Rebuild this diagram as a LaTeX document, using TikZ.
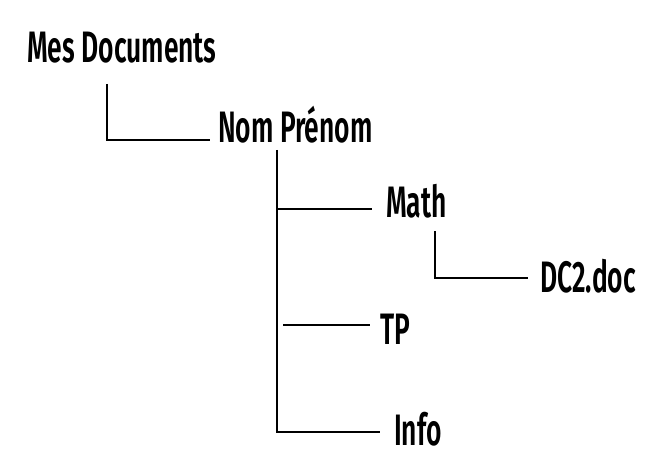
\documentclass[tikz,border=0pt]{standalone}
\usepackage{fontspec}
\newfontfamily\treefont[FakeStretch=0.6]{Fira Sans SemiBold}
\begin{document}
\begin{tikzpicture}[x=1pt,y=-1pt,
  lbl/.style={anchor=base west,inner sep=0pt,font=\treefont\fontsize{44}{44}\selectfont},
  conn/.style={line width=1.4pt,draw=black}]
\useasboundingbox[fill=white] (0,0) rectangle (645,473);
\node[lbl] (mes) at (27,63) {Mes Documents};
\node[lbl] (nom) at (218,143) {Nom Prénom};
\node[lbl] (math) at (386,218) {Math};
\node[lbl] (dc) at (540,292) {DC2.doc};
\node[lbl] (tp) at (380,344) {TP};
\node[lbl] (info) at (394,445) {Info};
\coordinate (a1) at (107,84);
\coordinate (b1) at (277,150);
\coordinate (b2) at (283,325);
\coordinate (c1) at (435,231);
\draw[conn] (a1) |- ([xshift=-8pt,yshift=3pt]nom.base west);
\draw[conn] (b1) |- ([xshift=-14pt,yshift=13pt]info.base west);
\draw[conn] (b1 |- math.base west) ++(0,-9) -- ([xshift=-14pt,yshift=9pt]math.base west);
\draw[conn] (b2) -- ([xshift=-10pt,yshift=19pt]tp.base west);
\draw[conn] (c1) |- ([xshift=-12pt,yshift=14pt]dc.base west);
\end{tikzpicture}
\end{document}
